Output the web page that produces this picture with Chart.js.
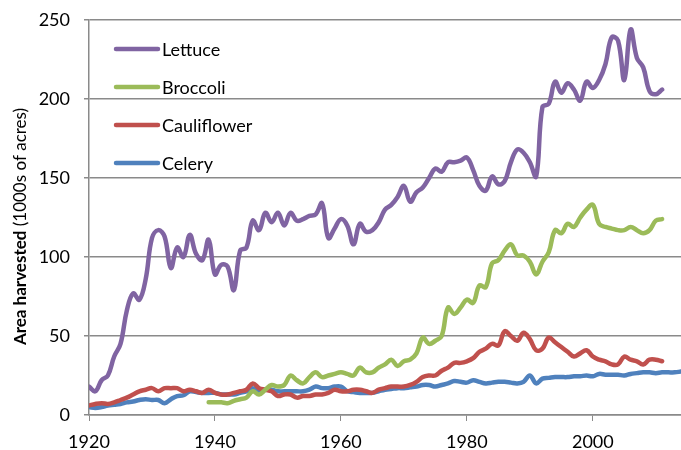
<!DOCTYPE html>
<html>
<head>
<meta charset="utf-8">
<title>Area harvested</title>
<script src="https://cdn.jsdelivr.net/npm/chart.js@4"></script>
<style>
  body { margin: 0; background: #fff; }
  #wrap { width: 681px; height: 450px; }
</style>
</head>
<body>
<div id="wrap"><canvas id="chart" width="681" height="450"></canvas></div>
<script>
const years = [
  1920, 1921, 1922, 1923, 1924, 1925, 1926, 1927, 1928, 1929,
  1930, 1931, 1932, 1933, 1934, 1935, 1936, 1937, 1938, 1939,
  1940, 1941, 1942, 1943, 1944, 1945, 1946, 1947, 1948, 1949,
  1950, 1951, 1952, 1953, 1954, 1955, 1956, 1957, 1958, 1959,
  1960, 1961, 1962, 1963, 1964, 1965, 1966, 1967, 1968, 1969,
  1970, 1971, 1972, 1973, 1974, 1975, 1976, 1977, 1978, 1979,
  1980, 1981, 1982, 1983, 1984, 1985, 1986, 1987, 1988, 1989,
  1990, 1991, 1992, 1993, 1994, 1995, 1996, 1997, 1998, 1999,
  2000, 2001, 2002, 2003, 2004, 2005, 2006, 2007, 2008, 2009,
  2010, 2011, 2012, 2013, 2014
];

// thousands of acres, one value per year above (null = no data)
const lettuce = [
  18, 15, 22, 25, 37, 45, 66, 77, 73, 86,
  112, 117, 113, 93, 106, 100, 114, 102, 98, 111,
  89, 95, 94, 79, 104, 106, 123, 117, 128, 122,
  128, 120, 128, 123, 124, 126, 127, 134, 112, 118,
  124, 120, 108, 121, 116, 117, 122, 130, 133, 138,
  145, 135, 141, 144, 150, 156, 154, 160, 160, 161,
  163, 155, 145, 142, 151, 146, 148, 160, 168, 166,
  160, 151, 195, 197, 211, 204, 210, 206, 199, 211,
  207, 212, 222, 239, 237, 212, 244, 226, 220, 205,
  203, 206, null, null, null
];

const broccoli = [
  null, null, null, null, null, null, null, null, null, null,
  null, null, null, null, null, null, null, null, null, 8,
  8, 8, 7.5, 9, 10, 11, 15, 13, 16, 19,
  18, 19, 25, 22, 20, 24, 27, 24, 25, 26,
  27, 26, 25, 30, 27, 27, 30, 32, 35, 31,
  34, 35, 39, 49, 45, 47, 50, 68, 64, 68,
  73, 71, 82, 81, 96, 98, 104, 108, 101, 101,
  97, 89, 97, 103, 117, 115, 121, 119, 125, 130,
  133, 121, 119, 118, 117, 117, 119, 117, 115, 117,
  123, 124, null, null, null
];

const cauliflower = [
  6, 7, 7.5, 7, 8, 9.5, 11, 13, 15, 16,
  17, 15, 17, 17, 17, 15, 16, 15, 14, 16,
  14, 13, 13, 14, 15, 16, 20, 17, 16, 15,
  12, 13, 13, 11, 12, 12, 13, 13, 14, 16,
  15, 15, 16, 16, 15, 14, 16, 17, 18, 18,
  18, 19, 21, 24, 25, 25, 28, 30, 33, 33,
  34, 36, 40, 42, 45, 44, 53, 50, 47, 52,
  48, 41, 42, 49, 46, 43, 40, 37, 39, 41,
  37, 35, 34, 32, 32, 37, 35, 34, 32, 35,
  35, 34, null, null, null
];

const celery = [
  5, 4.5, 5, 6, 6.5, 7, 8, 8.5, 9.5, 10,
  9.5, 9.5, 7.5, 10, 12, 12.5, 15, 14.5, 14, 14,
  14, 13, 13, 13, 14, 15, 17, 15, 16, 16,
  15, 15, 15, 15, 15, 16, 18, 17, 17, 18,
  18, 15, 14.5, 14, 14, 14, 15, 16, 16.5, 17,
  17, 17.5, 18, 19, 19, 18, 19, 20, 21.5, 21,
  20.5, 22, 21, 20, 20.5, 21, 21, 20.5, 20, 21,
  25, 20, 23, 23.5, 24, 24, 24, 24.5, 24.5, 25,
  24.5, 26, 25.5, 25.5, 25.5, 25, 26, 26.5, 27, 27,
  26.5, 27, 27, 27, 27.5
];

const seriesNames = ['Lettuce', 'Broccoli', 'Cauliflower', 'Celery'];
const seriesColors = ['#8064A2', '#9BBB59', '#C0504D', '#4F81BD'];
const yTicks = [0, 50, 100, 150, 200, 250];
const xTicks = [1920, 1940, 1960, 1980, 2000];

const FONT = 'Lato, "Open Sans", sans-serif';
const gridGrey = '#8a8a8a';

const toPoints = (values) => years.map((x, i) => ({ x, y: values[i] }));

// y axis title: bold part + normal part, rotated
const axisTitle = {
  id: 'axisTitle',
  afterDraw(chart) {
    const { ctx, chartArea } = chart;
    const boldPart = 'Area harvested';
    const plainPart = ' (1000s of acres)';
    ctx.save();
    ctx.fillStyle = '#000';
    ctx.textBaseline = 'middle';
    ctx.font = 'bold 17px ' + FONT;
    const w1 = ctx.measureText(boldPart).width;
    ctx.font = '17px ' + FONT;
    const w2 = ctx.measureText(plainPart).width;
    const cy = (chartArea.top + chartArea.bottom) / 2 + 9;
    ctx.translate(21, cy);
    ctx.rotate(-Math.PI / 2);
    const start = -(w1 + w2) / 2;
    ctx.textAlign = 'left';
    ctx.font = 'bold 17px ' + FONT;
    ctx.fillText(boldPart, start, 0);
    ctx.font = '17px ' + FONT;
    ctx.fillText(plainPart, start + w1, 0);
    ctx.restore();
  }
};

// legend inside the plot, top left
const insideLegend = {
  id: 'insideLegend',
  afterDatasetsDraw(chart) {
    const { ctx, chartArea } = chart;
    ctx.save();
    ctx.font = '18px ' + FONT;
    ctx.textBaseline = 'middle';
    ctx.textAlign = 'left';
    chart.data.datasets.forEach((ds, i) => {
      const y = chartArea.top + 29 + i * 38;
      const x0 = chartArea.left + 27;
      ctx.strokeStyle = ds.borderColor;
      ctx.lineWidth = 4.5;
      ctx.lineCap = 'round';
      ctx.beginPath();
      ctx.moveTo(x0, y);
      ctx.lineTo(x0 + 42, y);
      ctx.stroke();
      ctx.fillStyle = '#000';
      ctx.fillText(ds.label, x0 + 46, y + 1);
    });
    ctx.restore();
  }
};

const datasets = [lettuce, broccoli, cauliflower, celery].map((values, i) => ({
  label: seriesNames[i],
  data: toPoints(values),
  borderColor: seriesColors[i],
  backgroundColor: seriesColors[i],
  borderWidth: 4.5,
  borderCapStyle: 'round',
  borderJoinStyle: 'round',
  pointRadius: 0,
  tension: 0.4,
  fill: false,
  spanGaps: false
}));

new Chart(document.getElementById('chart'), {
  type: 'line',
  data: { datasets },
  options: {
    responsive: false,
    animation: false,
    devicePixelRatio: 1,
    layout: { padding: { top: 20, right: 0, bottom: 0, left: 0 } },
    plugins: {
      legend: { display: false },
      tooltip: { enabled: false }
    },
    scales: {
      x: {
        type: 'linear',
        min: 1920,
        max: 2014,
        afterFit: (scale) => {
          scale.height = 35;
          scale.paddingLeft = 0;
          scale.paddingRight = 0;
        },
        afterBuildTicks: (scale) => { scale.ticks = xTicks.map(value => ({ value })); },
        ticks: {
          font: { family: FONT, size: 18 },
          color: '#000',
          padding: 10,
          maxRotation: 0,
          callback: (v) => String(v)
        },
        grid: { drawOnChartArea: false, drawTicks: true, tickLength: 6, color: gridGrey },
        border: { display: true, color: gridGrey, width: 1.5 }
      },
      y: {
        min: 0,
        max: 250,
        afterFit: (scale) => {
          scale.width = 89;
          scale.paddingTop = 0;
          scale.paddingBottom = 0;
        },
        afterBuildTicks: (scale) => { scale.ticks = yTicks.map(value => ({ value })); },
        ticks: {
          font: { family: FONT, size: 18 },
          color: '#000',
          padding: 14
        },
        grid: { color: gridGrey, lineWidth: 1.5, tickLength: 5 },
        border: { display: true, color: gridGrey, width: 1.5 }
      }
    }
  },
  plugins: [axisTitle, insideLegend]
});
</script>
</body>
</html>
